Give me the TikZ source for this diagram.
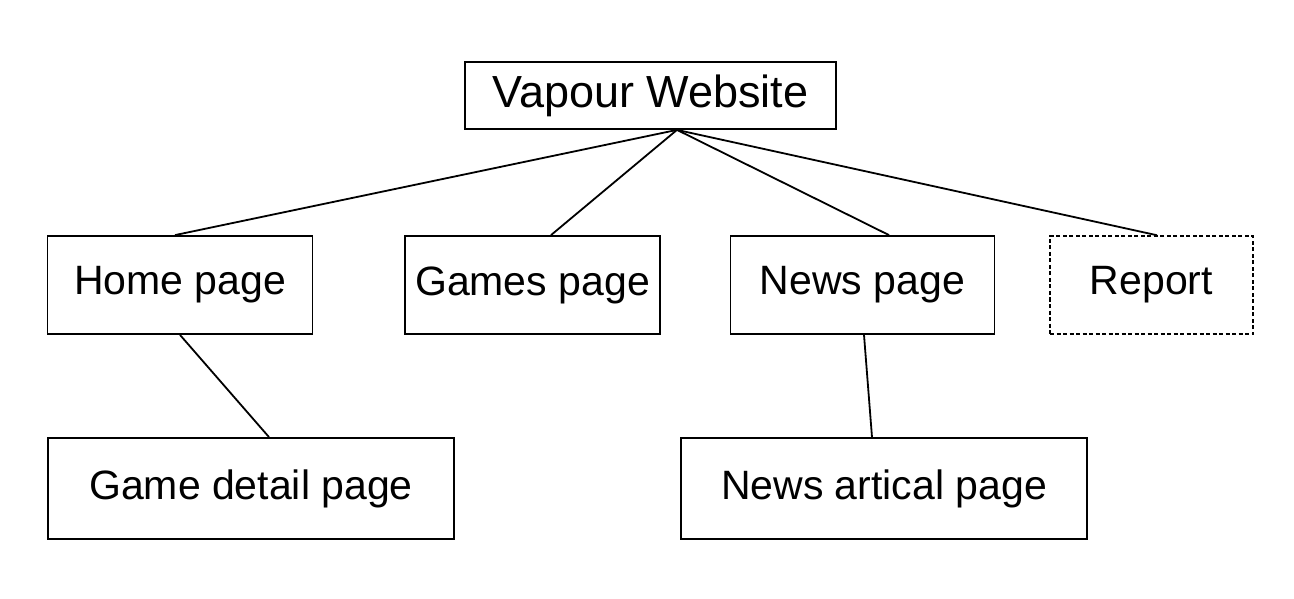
\documentclass[tikz,border=0pt]{standalone}
\usepackage{fontspec}
\setmainfont{Liberation Sans}
\begin{document}
\begin{tikzpicture}[x=1pt,y=-1pt,
  page/.style={draw, line width=1.8pt, inner sep=0pt, minimum height=98pt,
    font=\fontsize{41}{48}\selectfont},
  pending/.style={page, dash pattern=on 4pt off 2.5pt, line width=1.5pt},
  link/.style={line width=1.8pt}]
  \useasboundingbox (0,0) rectangle (1294,599);

  % site root
  \node[page, minimum width=371pt, minimum height=67pt,
        font=\fontsize{45}{52}\selectfont] (web) at (650.5,95.5) {Vapour Website};

  % top-level pages
  \node[page, minimum width=265pt] (home)   at (180,285)    {Home page};
  \node[page, minimum width=255pt] (games)  at (532.5,285)  {Games page};
  \node[page, minimum width=264pt] (news)   at (862.5,285)  {News page};
  \node[pending, minimum width=203pt] (report) at (1151.5,285) {Report};

  % second-level pages
  \node[page, minimum width=406pt, minimum height=101pt] (detail)  at (251,488.5) {Game detail page};
  \node[page, minimum width=406pt, minimum height=101pt] (article) at (884,488.5) {News artical page};

  % links
  \coordinate (hub) at ([xshift=26.5pt]web.south);
  \draw[link] (hub) -- ([xshift=-5pt]home.north);
  \draw[link] (hub) -- ([xshift=18.5pt]games.north);
  \draw[link] (hub) -- ([xshift=26.5pt]news.north);
  \draw[link] (hub) -- ([xshift=5.5pt]report.north);
  \draw[link] (home.south) -- ([xshift=18pt]detail.north);
  \draw[link] ([xshift=1.5pt]news.south) -- ([xshift=-12pt]article.north);
\end{tikzpicture}
\end{document}
